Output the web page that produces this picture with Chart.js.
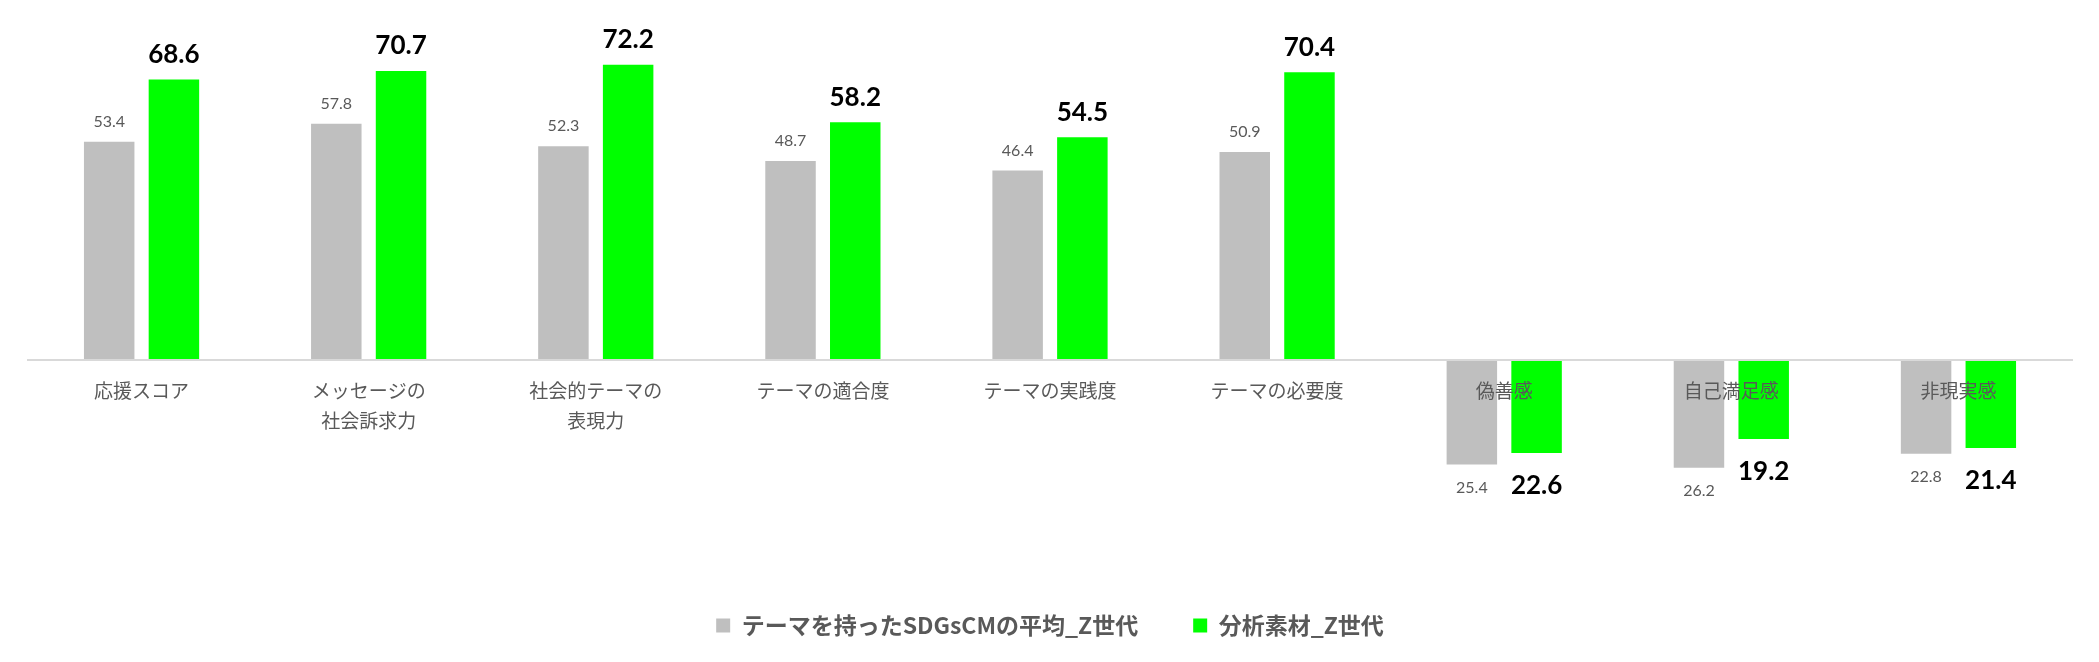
<!DOCTYPE html>
<html lang="ja">
<head>
    <meta charset="UTF-8" />
    <script src="https://cdn.jsdelivr.net/npm/chart.js"></script>
    <title>SDGsCM Z世代</title>
    <style>
        body {
            margin: 0;
            background: #ffffff;
        }
        canvas {
            display: block;
        }
    </style>
</head>
<body>
<canvas id="myChart" width="2099" height="662"></canvas>

<script>
    const categories = [
        '応援スコア',
        ['メッセージの', '社会訴求力'],
        ['社会的テーマの', '表現力'],
        'テーマの適合度',
        'テーマの実践度',
        'テーマの必要度',
        '偽善感',
        '自己満足感',
        '非現実感'
    ];
    const seriesNames = ['テーマを持ったSDGsCMの平均_Z世代', '分析素材_Z世代'];
    // negative items are drawn downward, labels show the absolute value
    const avgValues = [53.4, 57.8, 52.3, 48.7, 46.4, 50.9, -25.4, -26.2, -22.8];
    const materialValues = [68.6, 70.7, 72.2, 58.2, 54.5, 70.4, -22.6, -19.2, -21.4];

    const labelStyles = [
        { font: '16px Lato', color: '#595959', offPos: 20, offNeg: 23 },
        { font: 'bold 26px Lato', color: '#000000', offPos: 25, offNeg: 33 }
    ];

    // value labels above / below each bar
    const valueLabels = {
        id: 'valueLabels',
        afterDatasetsDraw(chart) {
            const ctx = chart.ctx;
            chart.data.datasets.forEach((ds, di) => {
                const meta = chart.getDatasetMeta(di);
                const st = labelStyles[di];
                meta.data.forEach((bar, i) => {
                    const v = ds.data[i];
                    ctx.save();
                    ctx.font = st.font;
                    ctx.fillStyle = st.color;
                    ctx.textAlign = 'center';
                    ctx.textBaseline = 'middle';
                    const y = v < 0 ? bar.y + st.offNeg : bar.y - st.offPos;
                    ctx.fillText(Math.abs(v).toFixed(1), bar.x, y);
                    ctx.restore();
                });
            });
        }
    };

    const ctx = document.getElementById('myChart').getContext('2d');

    const myChart = new Chart(ctx, {
        type: 'bar',
        data: {
            labels: categories,
            datasets: [
                {
                    label: seriesNames[0],
                    data: avgValues,
                    backgroundColor: '#bfbfbf'
                },
                {
                    label: seriesNames[1],
                    data: materialValues,
                    backgroundColor: '#00ff00'
                }
            ]
        },
        options: {
            responsive: false,
            animation: false,
            devicePixelRatio: 1,
            categoryPercentage: 0.57,
            barPercentage: 0.78,
            layout: {
                padding: { top: 10, left: 28, right: 27, bottom: 15 }
            },
            scales: {
                x: {
                    position: { y: 0 },
                    afterFit: (s) => { s.height = 0; },
                    grid: { display: false, drawTicks: false },
                    border: { display: true, color: '#d9d9d9', width: 2, z: 1 },
                    ticks: {
                        z: 1,
                        color: '#595959',
                        padding: 16,
                        maxRotation: 0,
                        autoSkip: false,
                        font: { family: '"Noto Sans CJK JP"', size: 19, lineHeight: 1.55 }
                    }
                },
                y: {
                    display: false,
                    min: -48.5,
                    max: 85.6
                }
            },
            plugins: {
                legend: {
                    position: 'bottom',
                    labels: {
                        color: '#595959',
                        boxWidth: 14,
                        boxHeight: 14,
                        padding: 55,
                        font: { family: '"Noto Sans CJK JP"', size: 23, weight: 'bold' }
                    }
                },
                tooltip: { enabled: false }
            }
        },
        plugins: [valueLabels]
    });
</script>
</body>
</html>
